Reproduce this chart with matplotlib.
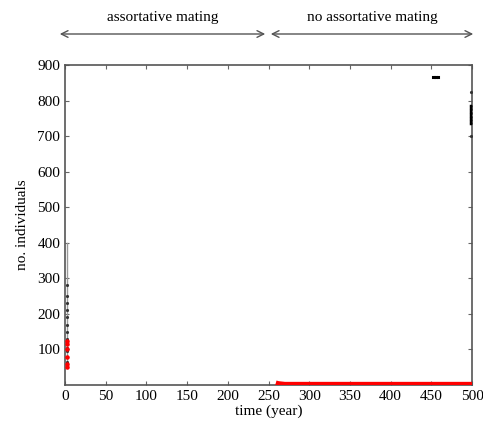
import matplotlib
matplotlib.use("Agg")
import matplotlib.pyplot as plt
import numpy as np

plt.rcParams['font.family'] = ['Liberation Serif', 'DejaVu Serif']

# early burst (assortative mating) at the start of the run
early_t = [3, 3, 3, 3, 3, 3, 3, 3, 3, 3, 3, 3, 3, 3, 3]
early_black = [400, 350, 310, 280, 250, 230, 210, 190, 170, 150, 130, 105, 95, 80, 65]
early_red_t = [3, 3, 3, 3, 3, 3]
early_red = [125, 115, 100, 80, 60, 50]

# late points near the end of the run
late_t = [453, 455, 457, 499, 499, 499, 499, 499, 499, 499, 499]
late_black = [866, 867, 866, 824, 785, 775, 765, 755, 745, 738, 700]

# red series after assortative mating is switched off
red_t = [259, 262, 266, 270, 300, 350, 400, 450, 500]
red_v = [6, 4, 3, 2, 2, 2, 2, 2, 2]

fig = plt.figure(figsize=(4.83, 4.28), dpi=100)
ax = fig.add_axes([0.1346, 0.1005, 0.8427, 0.7477])

ax.plot(red_t, red_v, color='red', lw=3.5, solid_capstyle='butt', zorder=3)
# faint vertical trace of the early burst, with darker points on it
ax.plot(early_t, early_black, color='#999999', lw=1.0, zorder=2)
ax.plot(early_t[3:], early_black[3:], '.', color='#333333', ms=2.5, zorder=3)
ax.plot(early_red_t, early_red, '.', color='red', ms=4.5, zorder=4)
ax.plot(late_t, late_black, '.', color='#333333', ms=2.5, zorder=3)
ax.plot([499, 499], [738, 785], color='k', lw=2.5, zorder=3)
ax.plot([452, 458], [866, 866], color='k', lw=2.2, zorder=3)

ax.set_xlim(0, 500)
ax.set_ylim(0, 900)
ax.set_xticks(np.arange(0, 501, 50))
ax.set_yticks(np.arange(100, 901, 100))
ax.tick_params(direction='in', top=True, right=True, length=3, labelsize=11, color='#666666')
for s in ax.spines.values():
    s.set_color('#555555')
    s.set_linewidth(1.2)
ax.set_xlabel('time (year)', fontsize=11, labelpad=1)
ax.set_ylabel('no. individuals', fontsize=11, labelpad=6)

# regime arrows above the plot
arrow_kw = dict(arrowstyle='<->', color='#555555', lw=1.0, mutation_scale=12)
fig.patches.append(matplotlib.patches.FancyArrowPatch((57 / 483, 1 - 34 / 428), (268 / 483, 1 - 34 / 428),
                                                      transform=fig.transFigure, **arrow_kw))
fig.patches.append(matplotlib.patches.FancyArrowPatch((268 / 483, 1 - 34 / 428), (476 / 483, 1 - 34 / 428),
                                                      transform=fig.transFigure, **arrow_kw))
fig.text(163 / 483, 1 - 18 / 428, 'assortative mating', ha='center', va='center', fontsize=11)
fig.text(372 / 483, 1 - 18 / 428, 'no assortative mating', ha='center', va='center', fontsize=11)

fig.savefig('out.png', dpi=100)
